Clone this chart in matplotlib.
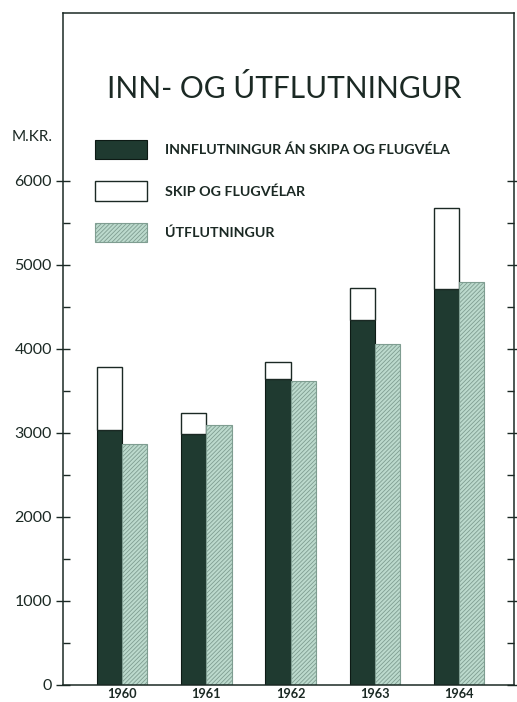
import matplotlib
matplotlib.use("Agg")
import matplotlib.pyplot as plt
import numpy as np
from matplotlib.ticker import FixedLocator

years = ["1960", "1961", "1962", "1963", "1964"]
imports_ex = [3030, 2990, 3645, 4340, 4710]          # Innflutningur án skipa og flugvéla
imports_total = [3780, 3235, 3845, 4730, 5675]       # incl. skip og flugvélar
exports = [2875, 3090, 3620, 4065, 4795]             # Útflutningur
ships_planes = [t - i for t, i in zip(imports_total, imports_ex)]

title = "INN- OG ÚTFLUTNINGUR"
unit_label = "M.KR."
legend_labels = ["INNFLUTNINGUR ÁN SKIPA OG FLUGVÉLA", "SKIP OG FLUGVÉLAR", "ÚTFLUTNINGUR"]
yticks_major = [0, 1000, 2000, 3000, 4000, 5000, 6000]
yticks_minor = [500, 1500, 2500, 3500, 4500, 5500]

plt.rcParams['font.family'] = ['Lato', 'DejaVu Sans']
plt.rcParams['hatch.linewidth'] = 0.6
ink = '#1b2924'
dark = '#1f3a30'
light = '#bcdacd'

fig = plt.figure(figsize=(5.17, 7.02), dpi=100)
ax = fig.add_axes([63/517, 1-685/702, (514-63)/517, (685-13)/702])

x = np.arange(len(years))
w = 0.30
b1 = ax.bar(x - w/2, imports_ex, width=w, color=dark, edgecolor='#0d1a15', linewidth=0.8)
b2 = ax.bar(x - w/2, ships_planes, bottom=imports_ex, width=w, color='white', edgecolor=ink, linewidth=1.0)
b3 = ax.bar(x + w/2, exports, width=w, color=light, edgecolor='#7f9d91', hatch='////////', linewidth=0.8)

ax.set_xlim(-0.70, 4.65)
ax.set_ylim(0, 8000)
ax.set_xticks(x)
ax.set_xticklabels(years, fontsize=9.2, fontweight='bold', color=ink)
ax.yaxis.set_major_locator(FixedLocator(yticks_major))
ax.yaxis.set_minor_locator(FixedLocator(yticks_minor))
ax.set_yticklabels([str(v) for v in yticks_major], fontsize=11.5, color=ink)
ax.tick_params(axis='x', length=0, pad=2.5)
ax.tick_params(axis='y', which='major', direction='inout', length=10, width=1.0, color=ink, pad=3, right=True)
ax.tick_params(axis='y', which='minor', direction='in', length=5, width=1.0, color=ink, right=True)
for s in ax.spines.values():
    s.set_color(ink)
    s.set_linewidth(1.1)

fig.text(284/517, 1-88/702, title, ha='center', va='center', fontsize=21.5, color=ink)
fig.text(12/517, 1-137/702, unit_label, ha='left', va='center', fontsize=11, color=ink)

leg = fig.legend([b1[0], b2[0], b3[0]], legend_labels, loc='upper left',
                 bbox_to_anchor=(95/517, 1-140/702), frameon=False,
                 prop={'family': 'Lato', 'size': 10.3, 'weight': 'bold'},
                 handlelength=3.6, handleheight=1.7, labelspacing=1.55,
                 handletextpad=1.3, borderpad=0, borderaxespad=0)
for t in leg.get_texts():
    t.set_color(ink)

fig.savefig("out.png", dpi=100, facecolor='white')
